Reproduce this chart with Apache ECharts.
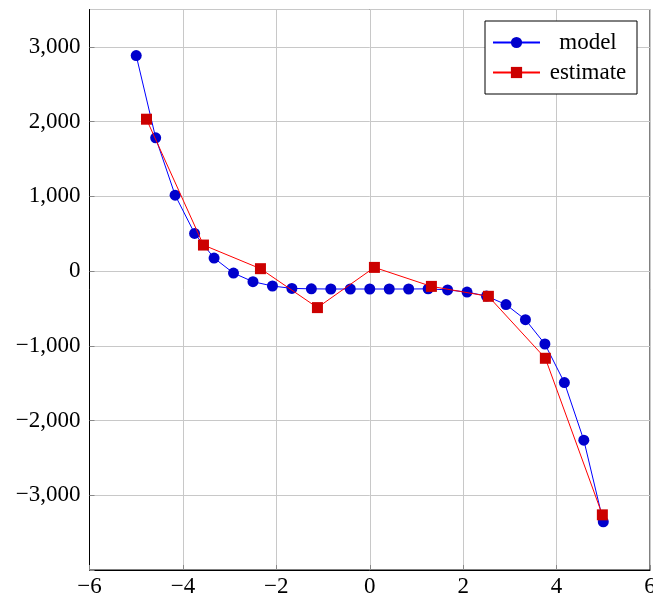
<!DOCTYPE html>
<html>
<head>
<meta charset="utf-8">
<script src="https://cdn.jsdelivr.net/npm/echarts@6/dist/echarts.min.js"></script>
<style>
html,body{margin:0;padding:0;background:#fff;}
#chart{width:653px;height:602px;}
</style>
</head>
<body>
<div id="chart"></div>
<script>
// Data
const modelX = [-5, -4.583, -4.167, -3.75, -3.333, -2.917, -2.5, -2.083, -1.667, -1.25, -0.833, -0.417, 0,
                0.417, 0.833, 1.25, 1.667, 2.083, 2.5, 2.917, 3.333, 3.75, 4.167, 4.583, 5];
const modelY = [2884, 1783, 1016, 504, 174, -27, -142, -200, -232, -238, -240, -240, -240,
                -240, -240, -238, -252, -281, -334, -449, -650, -976, -1492, -2263, -3355];
const estX = [-4.78, -3.56, -2.34, -1.12, 0.1, 1.32, 2.54, 3.76, 4.98];
const estY = [2032, 348, 32, -489, 49, -205, -338, -1167, -3262];
const seriesNames = ['model', 'estimate'];

const FONT = '"Liberation Serif", "DejaVu Serif", serif';
function fmt(v) {
  const s = Math.abs(v).toLocaleString('en-US');
  return (v < 0 ? '\u2212' : '') + s;
}

const chart = echarts.init(document.getElementById('chart'), null, {renderer: 'canvas'});
chart.setOption({
  animation: false,
  backgroundColor: '#fff',
  grid: {
    left: 89.5, right: 3, top: 9.5, bottom: 32,
    outerBoundsMode: 'none', containLabel: false,
    show: true, borderColor: '#000', borderWidth: 1, backgroundColor: 'transparent'
  },
  legend: {
    orient: 'vertical',
    left: 485, top: 21,
    padding: [10, 6, 10, 7],
    itemGap: 7,
    itemWidth: 47, itemHeight: 14,
    backgroundColor: '#fff',
    borderColor: '#000', borderWidth: 1, borderRadius: 0,
    data: seriesNames,
    formatter: name => '{t|' + name + '}',
    textStyle: {
      fontFamily: FONT, fontSize: 23, color: '#000', lineHeight: 22,
      rich: { t: { width: 86, align: 'center', fontFamily: FONT, fontSize: 23, lineHeight: 22, color: '#000' } }
    }
  },
  xAxis: {
    type: 'value', min: -6, max: 6, interval: 2,
    axisLine: {show: true, onZero: false, lineStyle: {color: '#000', width: 1}},
    axisTick: {show: true, inside: true, length: 5, lineStyle: {color: '#888'}},
    splitLine: {show: true, lineStyle: {color: '#c8c8c8', width: 1}},
    axisLabel: {formatter: fmt, fontFamily: FONT, fontSize: 23, color: '#000', margin: 5, showMaxLabel: true}
  },
  yAxis: {
    type: 'value', min: -4000, max: 3500, interval: 1000,
    axisLine: {show: true, onZero: false, lineStyle: {color: '#000', width: 1}},
    axisTick: {show: true, inside: true, length: 5, lineStyle: {color: '#888'}},
    splitLine: {show: true, lineStyle: {color: '#c8c8c8', width: 1}},
    axisLabel: {formatter: v => (v === -4000 ? '' : fmt(v)), fontFamily: FONT, fontSize: 23, color: '#000', margin: 9, showMaxLabel: false}
  },
  series: [
    {
      name: seriesNames[0], type: 'line',
      data: modelX.map((x, i) => [x, modelY[i]]),
      symbol: 'circle', symbolSize: 11, showAllSymbol: true,
      lineStyle: {color: '#0000ff', width: 1},
      itemStyle: {color: '#0000cc', borderColor: '#0000cc', borderWidth: 0},
      z: 2
    },
    {
      name: seriesNames[1], type: 'line',
      data: estX.map((x, i) => [x, estY[i]]),
      symbol: 'rect', symbolSize: 11, showAllSymbol: true,
      lineStyle: {color: '#ff0000', width: 1},
      itemStyle: {color: '#cc0000', borderColor: '#cc0000', borderWidth: 0},
      z: 3
    }
  ]
});
</script>
</body>
</html>
